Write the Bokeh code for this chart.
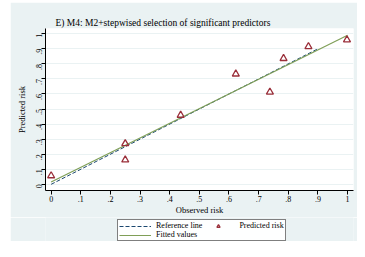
import math
from bokeh.plotting import figure
from bokeh.layouts import column
from bokeh.models import Legend, LegendItem, FixedTicker, Range1d
from bokeh.embed import file_html
from bokeh.resources import INLINE

# Data
observed = [0.0, 0.25, 0.25, 0.437, 0.623, 0.738, 0.784, 0.868, 0.998]
predicted = [0.057, 0.27, 0.162, 0.459, 0.733, 0.613, 0.836, 0.915, 0.96]
ref_x = [0.0, 0.9]
ref_y = [0.0, 0.9]
fit_x = [0.0, 1.0]
fit_y = [0.015, 0.99]
ticks = [0, 0.1, 0.2, 0.3, 0.4, 0.5, 0.6, 0.7, 0.8, 0.9, 1.0]
tick_labels = ["0", ".1", ".2", ".3", ".4", ".5", ".6", ".7", ".8", ".9", "1"]

BG = "#eaf2f3"
SERIF = "Liberation Serif"
REF_STYLE = dict(line_color="#1a476f", line_width=1, line_dash="4 2")
FIT_STYLE = dict(line_color="#7f9f57", line_width=1.2)
PTS_STYLE = dict(marker="triangle", size=7, line_color="#9a2f3a", line_width=1.3, fill_alpha=0)

p = figure(width=347, height=215, output_backend="svg", toolbar_location=None,
           x_range=Range1d(-0.019, 1.02), y_range=Range1d(-0.041, 1.035),
           title="E) M4: M2+stepwised selection of significant predictors")
p.border_fill_color = BG
p.background_fill_color = "white"
p.outline_line_color = None
p.min_border_left = 35
p.min_border_right = 4
p.min_border_top = 26
p.min_border_bottom = 26

p.title.text_font = SERIF
p.title.text_font_size = "9.5px"
p.title.text_font_style = "normal"
p.title.text_color = "black"
p.title.align = "left"
p.title.vertical_align = "bottom"
p.title.offset = 10
p.title.standoff = 1

p.xgrid.grid_line_color = None
p.ygrid.grid_line_color = BG
p.ygrid.grid_line_width = 1

for ax in (p.xaxis, p.yaxis):
    ax.ticker = FixedTicker(ticks=ticks)
    ax.major_label_overrides = {t: l for t, l in zip(ticks, tick_labels)}
    ax.major_label_text_font = SERIF
    ax.major_label_text_font_size = "8px"
    ax.major_label_text_color = "black"
    ax.axis_label_text_font = SERIF
    ax.axis_label_text_font_size = "8.5px"
    ax.axis_label_text_font_style = "normal"
    ax.axis_label_text_color = "black"
    ax.axis_line_color = "black"
    ax.major_tick_line_color = "black"
    ax.major_tick_out = 4
    ax.major_tick_in = 0
    ax.minor_tick_line_color = None
    ax.major_label_standoff = 1
    ax.axis_label_standoff = 0

p.xaxis.axis_label = "Observed risk"
p.yaxis.axis_label = "Predicted risk"
p.yaxis.major_label_orientation = math.pi / 2
p.yaxis.major_label_standoff = 2
p.yaxis.axis_label_standoff = 4

p.line(ref_x, ref_y, **REF_STYLE)
p.line(fit_x, fit_y, **FIT_STYLE)
p.scatter(observed, predicted, **PTS_STYLE)

# Legend strip below the plot; its glyphs sit outside this strip's visible range
q = figure(width=347, height=24, output_backend="svg", toolbar_location=None,
           title=None, x_range=Range1d(5, 6), y_range=Range1d(5, 6),
           x_axis_location=None, y_axis_location=None)
q.border_fill_color = BG
q.background_fill_color = BG
q.outline_line_color = None
q.grid.visible = False
q.min_border_left = q.min_border_right = q.min_border_top = q.min_border_bottom = 0
l_ref = q.line(ref_x, ref_y, **REF_STYLE)
l_fit = q.line(fit_x, fit_y, **FIT_STYLE)
l_pts = q.scatter(observed, predicted, **PTS_STYLE)

legend = Legend(items=[
    LegendItem(label="Reference line", renderers=[l_ref]),
    LegendItem(label="Predicted risk", renderers=[l_pts]),
    LegendItem(label="Fitted values", renderers=[l_fit]),
], orientation="horizontal", nrows=2)
legend.location = (72, 0)
legend.label_text_font = SERIF
legend.label_text_font_size = "8px"
legend.label_text_color = "black"
legend.label_height = 8
legend.glyph_height = 8
legend.glyph_width = 32
legend.label_standoff = 5
legend.spacing = 0
legend.padding = 1
legend.margin = 0
legend.border_line_color = "black"
legend.border_line_width = 1
legend.background_fill_color = "white"
q.add_layout(legend, "center")

layout = column(p, q, spacing=0)
layout.margin = (2, 0, 0, 10)

open("out.html", "w").write(file_html(layout, INLINE))
